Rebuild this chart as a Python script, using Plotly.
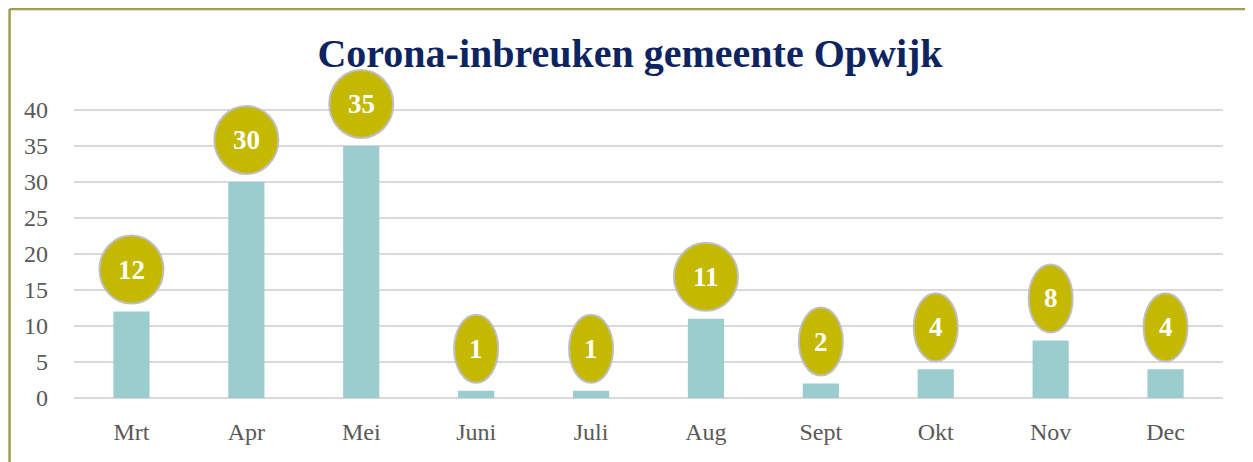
import plotly.graph_objects as go

months = ["Mrt", "Apr", "Mei", "Juni", "Juli", "Aug", "Sept", "Okt", "Nov", "Dec"]
values = [12, 30, 35, 1, 1, 11, 2, 4, 8, 4]
y_ticks = [0, 5, 10, 15, 20, 25, 30, 35, 40]

SERIF = "Palatino Linotype, Book Antiqua, Palatino, Liberation Serif, serif"
BAR_COLOR = "#9BCDCF"
BUBBLE_FILL = "#C4B800"
BUBBLE_LINE = "#BFBFBF"
FRAME = "#A09C50"

xs = list(range(len(months)))

# figure geometry (page has an 8px body margin)
W, H_FIG = 1245, 454
M_L, M_R, M_T, M_B = 65.5, 29.5, 58, 64
PLOT_W = W - M_L - M_R
PLOT_H = H_FIG - M_T - M_B
PX_PER_UNIT = 7.2
Y_TOP = PLOT_H / PX_PER_UNIT  # extend range above 40 so bubbles are not clipped

fig = go.Figure()
fig.add_trace(go.Bar(
    x=xs, y=values, marker=dict(color=BAR_COLOR, line=dict(width=0)),
    width=0.315, hoverinfo="skip", showlegend=False,
))

GAP = 8
H = 68
shapes = []
annotations = []
for xi, v in zip(xs, values):
    w = 64 if len(str(v)) > 1 else 44
    shapes.append(dict(
        type="circle", xref="x", yref="y",
        xsizemode="pixel", ysizemode="pixel",
        xanchor=xi, yanchor=v,
        x0=-w / 2, x1=w / 2, y0=GAP, y1=GAP + H,
        fillcolor=BUBBLE_FILL, line=dict(color=BUBBLE_LINE, width=2),
        layer="above",
    ))
    annotations.append(dict(
        x=xi, y=v, xref="x", yref="y", yshift=GAP + H / 2,
        text=f"<b>{v}</b>", showarrow=False,
        font=dict(family=SERIF, size=27, color="white"),
        xanchor="center", yanchor="middle",
    ))

# frame (pixel positions within the figure converted to paper coords)
def px_x(p):
    return (p - M_L) / PLOT_W

def px_y(p):
    return (H_FIG - M_B - p) / PLOT_H

fx0, fx1, fy0 = px_x(1.0), px_x(1243.5), px_y(1.0)
shapes.append(dict(type="line", xref="paper", yref="paper",
                   x0=fx0, x1=fx1, y0=fy0, y1=fy0,
                   line=dict(color=FRAME, width=2.5)))
shapes.append(dict(type="line", xref="paper", yref="paper",
                   x0=fx0, x1=fx0, y0=fy0, y1=px_y(H_FIG + 5),
                   line=dict(color=FRAME, width=2.5)))
shapes.append(dict(type="line", xref="paper", yref="paper",
                   x0=fx1, x1=fx1, y0=fy0, y1=px_y(H_FIG + 5),
                   line=dict(color="#E8E6D0", width=1.5)))

fig.update_layout(
    width=W, height=H_FIG,
    margin=dict(l=M_L, r=M_R, t=M_T, b=M_B, pad=0),
    paper_bgcolor="white", plot_bgcolor="white",
    title=dict(text="<b>Corona-inbreuken gemeente Opwijk</b>",
               x=(630 - 8) / W, xref="container", xanchor="center",
               y=1 - (53 - 8) / H_FIG, yref="container", yanchor="middle",
               font=dict(family=SERIF, size=40, color="#0D2461")),
    xaxis=dict(tickmode="array", tickvals=xs, ticktext=months,
               range=[-0.5, len(months) - 0.5],
               showgrid=False, zeroline=False, showline=False, ticks="",
               tickfont=dict(family=SERIF, size=24, color="#595959"),
               ticklabelstandoff=17),
    yaxis=dict(range=[0, Y_TOP], tickvals=y_ticks,
               showgrid=True, gridcolor="#D9D9D9", gridwidth=2,
               zeroline=True, zerolinecolor="#D9D9D9", zerolinewidth=2,
               showline=False, ticks="",
               tickfont=dict(family=SERIF, size=24, color="#595959"),
               ticklabelstandoff=25),
    shapes=shapes, annotations=annotations,
    bargap=0.685,
)

fig.write_html("out.html")
